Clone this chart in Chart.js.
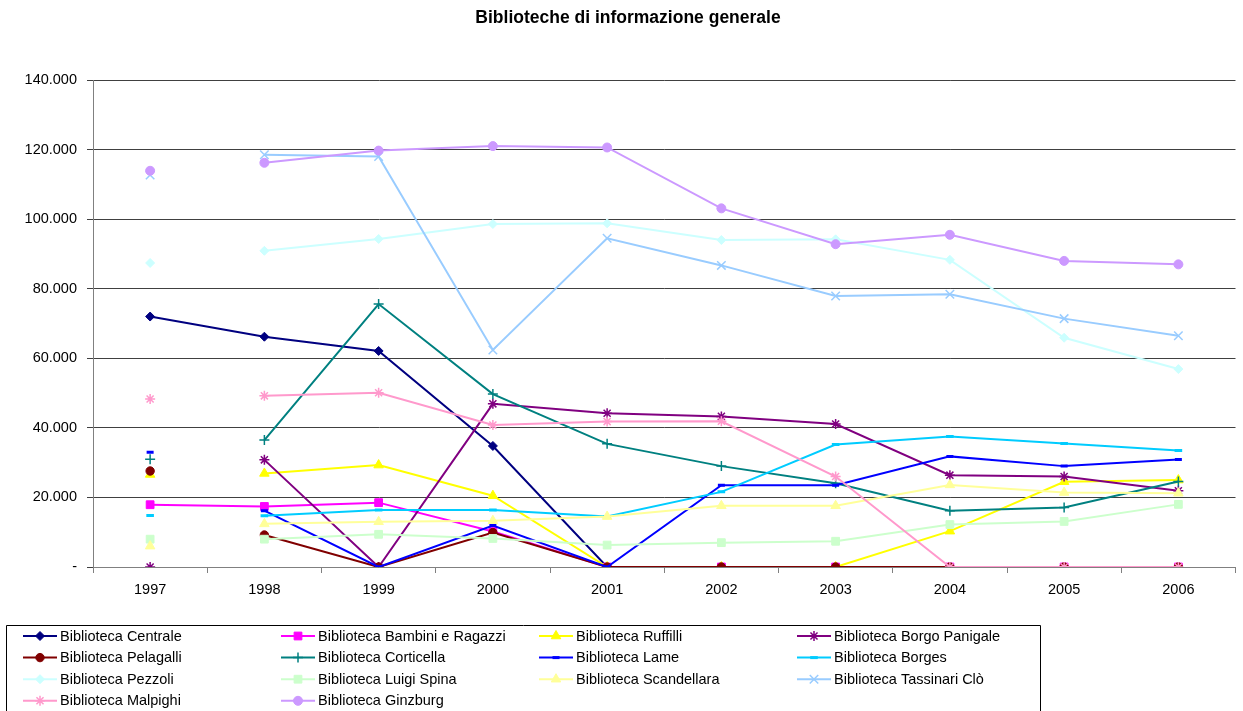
<!DOCTYPE html>
<html>
<head>
<meta charset="utf-8">
<script src="https://cdn.jsdelivr.net/npm/chart.js@4/dist/chart.umd.min.js"></script>
<style>
html,body{margin:0;padding:0;background:#fff;}
#wrap{position:relative;width:1243px;height:711px;}
</style>
</head>
<body>
<div id="wrap"><canvas id="c" width="1243" height="711"></canvas></div>
<script>
// ---- DATA ----
const years = ['1997','1998','1999','2000','2001','2002','2003','2004','2005','2006'];
const yTicks = [0, 20000, 40000, 60000, 80000, 100000, 120000, 140000];

const centrale      = [72000, 66200, 62100, 34800, 0, 0, 0, 0, 0, 0];
const bambini       = [17900, 17400, 18500, 10200, 0, 0, 0, 0, 0, 0];
const ruffilli      = [26600, 26900, 29300, 20500, 0, 0, 0, 10300, 24500, 25000];
const borgoPanigale = [0, 30800, 0, 46900, 44200, 43300, 41100, 26400, 26000, 21900];
const pelagalli     = [27600, 9200, 0, 9900, 0, 0, 0, 0, 0, 0];
const corticella    = [31000, 36500, 75600, 49700, 35400, 29000, 24100, 16200, 17100, 24600];
const lame          = [33000, 16200, 0, 11900, 0, 23500, 23500, 31800, 29000, 30900];
const borges        = [14800, 14700, 16400, 16400, 14500, 21600, 35200, 37500, 35500, 33500];
const pezzoli       = [87400, 90900, 94300, 98600, 98800, 94000, 94200, 88300, 65900, 56900];
const luigiSpina    = [8000, 8000, 9400, 8200, 6300, 7000, 7400, 12200, 13100, 18000];
const scandellara   = [6000, 12400, 13000, 13300, 14500, 17600, 17600, 23600, 21400, 21200];
const tassinari     = [112700, 118500, 118000, 62400, 94500, 86700, 77900, 78400, 71400, 66500];
const malpighi      = [48300, 49200, 50100, 40800, 41800, 41900, 26000, 0, 0, 0];
const ginzburg      = [113900, 116200, 119700, 121000, 120600, 103100, 92800, 95500, 88000, 87000];

const seriesNames = [
  'Biblioteca Centrale','Biblioteca Bambini e Ragazzi','Biblioteca Ruffilli','Biblioteca Borgo Panigale',
  'Biblioteca Pelagalli','Biblioteca Corticella','Biblioteca Lame','Biblioteca Borges',
  'Biblioteca Pezzoli','Biblioteca Luigi Spina','Biblioteca Scandellara','Biblioteca Tassinari Clò',
  'Biblioteca Malpighi','Biblioteca Ginzburg'
];
const seriesValues = [centrale, bambini, ruffilli, borgoPanigale, pelagalli, corticella, lame, borges,
  pezzoli, luigiSpina, scandellara, tassinari, malpighi, ginzburg];

// ---- STYLES ----
const colors = ['#000080','#FF00FF','#FFFF00','#800080','#800000','#008080','#0000FF','#00CCFF',
  '#CCFFFF','#CCFFCC','#FFFF99','#99CCFF','#FF99CC','#CC99FF'];
const styles = ['rectRot','rect','triangle','star','circle','cross','line','line',
  'rectRot','rect','triangle','crossRot','star','circle'];
const radii = [4.5, 5.5, 5.5, 5, 4.2, 5, 3.5, 3.8, 4.5, 5.5, 5.5, 6, 5, 4.5];
const pBorder = [1, 1, 1, 1.5, 1, 1.5, 3, 3, 1, 1, 1, 1.5, 1.5, 1];
// series whose first (1997) point is not joined to 1998
const joinedFirst = [true, true, false, false, false, false, false, false, false, false, false, false, false, false];

const datasets = seriesNames.map((name, i) => ({
  label: name,
  data: seriesValues[i],
  borderColor: colors[i],
  backgroundColor: colors[i],
  pointBackgroundColor: colors[i],
  pointBorderColor: colors[i],
  pointStyle: styles[i],
  pointRadius: radii[i],
  pointHoverRadius: radii[i],
  pointBorderWidth: pBorder[i],
  borderWidth: 2,
  tension: 0,
  fill: false,
  order: -i,
  segment: {
    borderColor: ctx => (!joinedFirst[i] && ctx.p0DataIndex === 0) ? 'rgba(0,0,0,0)' : undefined
  }
}));

const FONT = '"Liberation Sans", Arial, sans-serif';

function fmt(v) {
  if (v === 0) return '-';
  return String(v).replace(/\B(?=(\d{3})+(?!\d))/g, '.');
}

function drawMarker(ctx, ds, x, y) {
  const opts = {pointStyle: ds.pointStyle, radius: ds.pointRadius, rotation: 0, borderWidth: ds.pointBorderWidth};
  if (Chart.helpers && Chart.helpers.drawPoint) {
    Chart.helpers.drawPoint(ctx, opts, x, y);
  } else {
    ctx.beginPath(); ctx.arc(x, y, ds.pointRadius, 0, Math.PI*2); ctx.fill();
  }
}

const gridLegend = {
  id: 'gridLegend',
  afterDraw(chart) {
    const ctx = chart.ctx;
    ctx.save();
    ctx.strokeStyle = '#000';
    ctx.lineWidth = 1;
    ctx.beginPath();
    ctx.moveTo(6.5, 720); ctx.lineTo(6.5, 625.5); ctx.lineTo(1040.5, 625.5); ctx.lineTo(1040.5, 720);
    ctx.stroke();
    chart.data.datasets.forEach((ds, i) => {
      const col = i % 4, row = Math.floor(i / 4);
      const x0 = 23 + col * 258;
      const y = 636 + row * 21.6;
      ctx.strokeStyle = ds.borderColor;
      ctx.lineWidth = ds.borderWidth;
      ctx.beginPath(); ctx.moveTo(x0, y); ctx.lineTo(x0 + 34, y); ctx.stroke();
      ctx.fillStyle = ds.pointBackgroundColor;
      ctx.strokeStyle = ds.pointBorderColor;
      ctx.lineWidth = ds.pointBorderWidth;
      drawMarker(ctx, ds, x0 + 17, y);
      ctx.fillStyle = '#000';
      ctx.font = '14.5px ' + FONT;
      ctx.textAlign = 'left';
      ctx.textBaseline = 'middle';
      ctx.fillText(ds.label, x0 + 37, y + 0.5);
    });
    ctx.restore();
  }
};

new Chart(document.getElementById('c'), {
  type: 'line',
  data: {labels: years, datasets},
  plugins: [gridLegend],
  options: {
    responsive: false,
    animation: false,
    devicePixelRatio: 1,
    layout: {padding: {left: 14, right: 1, top: 0, bottom: 0}},
    plugins: {
      legend: {display: false},
      tooltip: {enabled: false},
      title: {
        display: true,
        text: 'Biblioteche di informazione generale',
        color: '#000',
        font: {family: FONT, size: 17.5, weight: 'bold', lineHeight: 1.2},
        padding: {top: 8, bottom: 51}
      }
    },
    scales: {
      x: {
        offset: true,
        afterFit: s => { s.height = 144; },
        grid: {offset: true, drawOnChartArea: false, drawTicks: true, tickLength: 6, color: '#808080'},
        border: {display: true, color: '#808080', width: 1},
        ticks: {color: '#000', font: {family: FONT, size: 14.5}, padding: 8, maxRotation: 0, autoSkip: false}
      },
      y: {
        min: 0, max: 140000,
        afterFit: s => { s.width = 79; },
        afterBuildTicks: s => { s.ticks = yTicks.map(v => ({value: v})); },
        grid: {color: '#404040', lineWidth: 1, tickLength: 6, drawTicks: true},
        border: {display: true, color: '#808080', width: 1},
        ticks: {color: '#000', font: {family: FONT, size: 14.5}, padding: 10, callback: v => fmt(v)}
      }
    }
  }
});
</script>
</body>
</html>
